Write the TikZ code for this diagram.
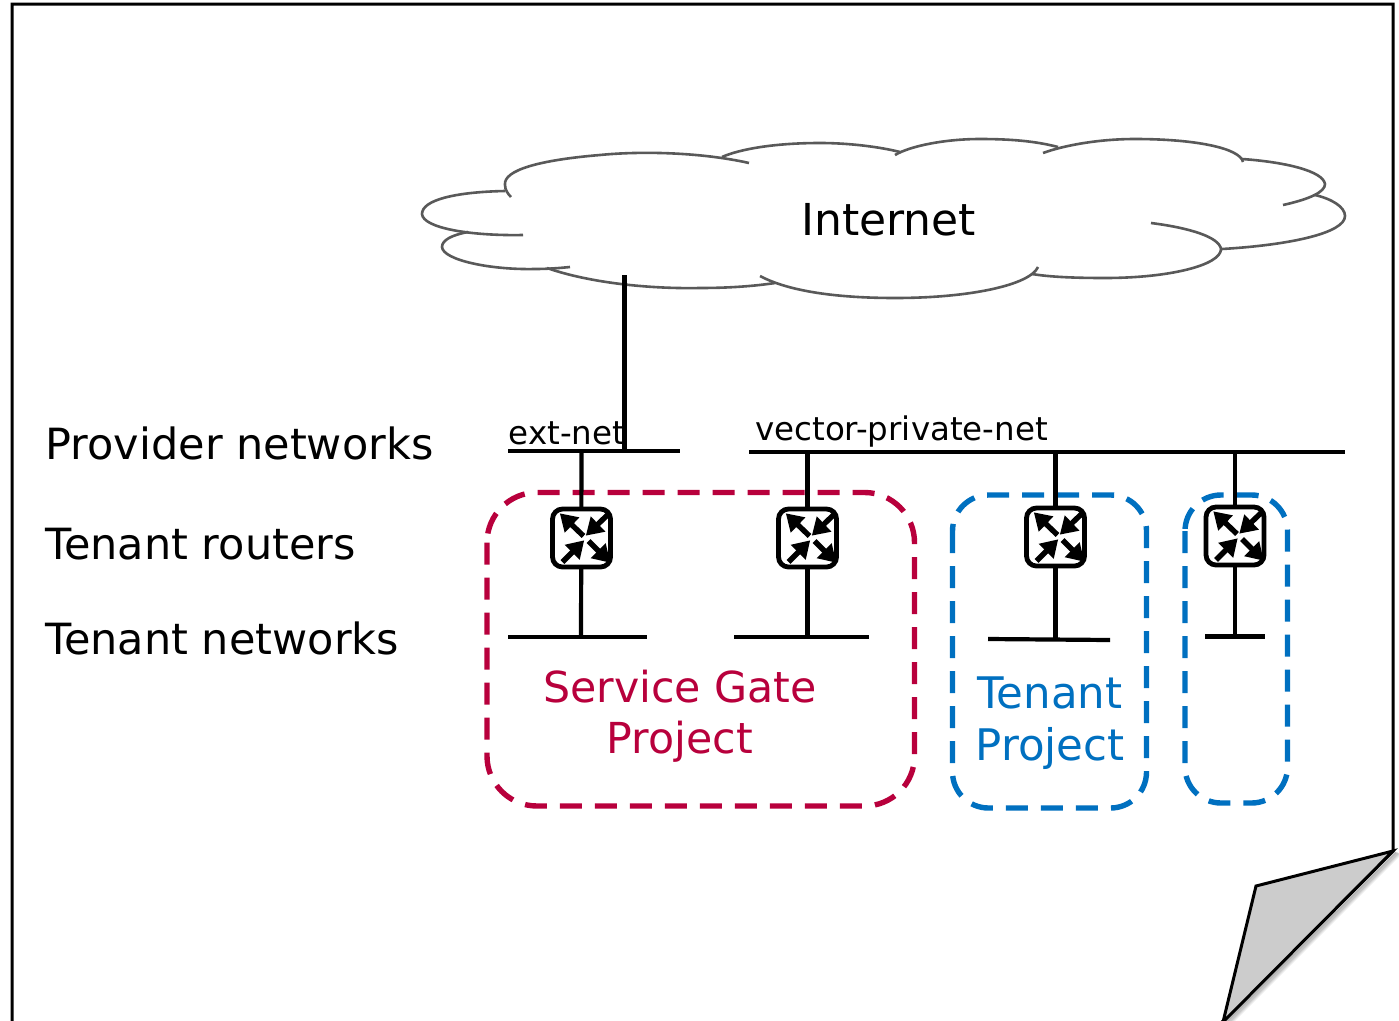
\documentclass[tikz,border=0pt]{standalone}
\usepackage{fontspec}
\setmainfont{DejaVu Sans}
\usetikzlibrary{arrows.meta}
\definecolor{cloudgray}{HTML}{595959}
\definecolor{svcred}{HTML}{B8003C}
\definecolor{tenblue}{HTML}{0070C0}
\tikzset{
  x=1pt,y=-1pt,
  pageedge/.style={draw=black,line width=3pt,line join=miter},
  lobe/.style={draw=cloudgray,line width=2.6pt,line cap=butt},
  netline/.style={draw=black,line width=4.2pt},
  routerbox/.style={draw=black,fill=white,line width=4.8pt,rounded corners=10pt,minimum size=58pt,inner sep=0pt},
  flow/.style={line width=5.4pt,-{Triangle[length=17pt,width=20pt]},shorten >=-1pt},
  svcbox/.style={draw=svcred,line width=5.4pt,dash pattern=on 22pt off 13pt},
  tenbox/.style={draw=tenblue,line width=5.4pt,dash pattern=on 22pt off 13pt},
  biglabel/.style={font=\fontsize{43}{50}\selectfont,inner sep=0pt,anchor=base west},
  smalllabel/.style={font=\fontsize{32.5}{38}\selectfont,inner sep=0pt,anchor=base west},
  svctext/.style={font=\fontsize{42.7}{51.5}\selectfont,text=svcred,align=center,inner sep=0pt},
  tentext/.style={font=\fontsize{43.5}{52}\selectfont,text=tenblue,align=center,inner sep=0pt},
}
\newcommand{\routerat}[3]{%
  \node[routerbox] (#1) at (#2,#3) {};
  \draw[flow] (#2+2,#3-2) -- (#2-21,#3-24);
  \draw[flow] (#2+26,#3-23) -- (#2+5,#3-3);
  \draw[flow] (#2-19,#3+24) -- (#2+2,#3+3);
  \draw[flow] (#2+7,#3+3) -- (#2+28,#3+24);
}
\begin{document}
\begin{tikzpicture}
\useasboundingbox (0,0) rectangle (1399,1020);
% page with shadow of the fold
\fill[white] (0,0) rectangle (1399,1020);
\foreach \o/\a in {7/0.08,5.5/0.1,4/0.13,2.5/0.18}{
  \draw[black,opacity=\a,line width=3pt] (1393+\o,851+\o*0.4) -- (1222+\o,1022+\o*0.4);
}
\draw[pageedge,fill=white] (12,1022) -- (12,4) -- (1393,4) -- (1393,851) -- (1222,1022);
\draw[pageedge,fill=black!20] (1393,851) -- (1256,886) -- (1223,1022) -- cycle;
% cloud
\draw[lobe] (749,163) .. controls (700,152) and (640,151) .. (600,155) .. controls (540,160) and (503,170) .. (505,185) .. controls (505,190) and (508,194) .. (511,197);
\draw[lobe] (505,191) .. controls (455,192) and (422,200) .. (422,214) .. controls (423,228) and (470,236) .. (523,235);
\draw[lobe] (468,232) .. controls (452,235) and (442,240) .. (442,247) .. controls (443,260) and (490,270) .. (535,269) .. controls (548,269) and (560,268) .. (570,267);
\draw[lobe] (547,268) .. controls (590,283) and (650,289) .. (700,288) .. controls (730,288) and (755,286) .. (775,283);
\draw[lobe] (760,276) .. controls (790,292) and (840,298) .. (895,298) .. controls (970,298) and (1030,285) .. (1038,267);
\draw[lobe] (1032,274) .. controls (1050,277) and (1075,278) .. (1105,278) .. controls (1170,278) and (1221,265) .. (1221,249) .. controls (1219,237) and (1190,228) .. (1151,223);
\draw[lobe] (1222,249) .. controls (1290,245) and (1345,233) .. (1345,216) .. controls (1345,207) and (1332,199) .. (1315,195);
\draw[lobe] (1283,205) .. controls (1310,199) and (1325,192) .. (1325,184) .. controls (1323,171) and (1285,162) .. (1242,159);
\draw[lobe] (1243,162) .. controls (1240,148) and (1195,139) .. (1135,139) .. controls (1100,139) and (1065,145) .. (1043,153);
\draw[lobe] (1058,147) .. controls (1035,141) and (1010,139) .. (980,139) .. controls (945,139) and (910,146) .. (895,155);
\draw[lobe] (900,152) .. controls (880,147) and (850,143) .. (820,143) .. controls (775,143) and (740,149) .. (722,157);
\node[font=\fontsize{44}{50}\selectfont,inner sep=0pt,anchor=base] (inet) at (888.5,235) {Internet};
\coordinate (cloudfoot) at (624.5,275);
% project boxes
\draw[svcbox,rounded corners=50pt] (487,492.5) rectangle (914.5,806);
\draw[tenbox,rounded corners=36pt] (952.5,495) rectangle (1146.5,808);
\draw[tenbox,rounded corners=36pt] (1185,495) rectangle (1287.5,803);
% buses
\coordinate (extL) at (508,451);
\coordinate (extR) at (680,451);
\coordinate (vecL) at (749,452);
\coordinate (vecR) at (1345,452);
\coordinate (netAL) at (508,637);
\coordinate (netAR) at (647,637);
\coordinate (netBL) at (734,637);
\coordinate (netBR) at (869,637);
\coordinate (netCL) at (988,639);
\coordinate (netCR) at (1110,640);
\coordinate (netDL) at (1205,636.5);
\coordinate (netDR) at (1265,636.5);
\draw[netline] (extL) -- (extR);
\draw[netline] (vecL) -- (vecR);
\draw[netline] (netAL) -- (netAR);
\draw[netline] (netBL) -- (netBR);
\draw[netline] (netCL) -- (netCR);
\draw[netline] (netDL) -- (netDR);
\draw[netline] (cloudfoot) -- (cloudfoot |- extL);
% routers and their links
\coordinate (upA) at (581.5,451);
\coordinate (upB) at (807.5,452);
\coordinate (upC) at (1055.5,452);
\coordinate (upD) at (1235,452);
\coordinate (downA) at (581,637);
\coordinate (downB) at (807.5,637);
\coordinate (downC) at (1055.5,640);
\coordinate (downD) at (1235,636.5);
\draw[netline] (upA) -- (downA);
\draw[netline] (upB) -- (downB);
\draw[netline] (upC) -- (downC);
\draw[netline] (upD) -- (downD);
\routerat{ra}{581.5}{538}
\routerat{rb}{807.5}{538}
\routerat{rc}{1055.5}{537}
\routerat{rd}{1235}{536}
% labels
\node[biglabel] (lprov) at (45.5,459) {Provider networks};
\node[biglabel] (lrout) at (45,559) {Tenant routers};
\node[biglabel] (lnets) at (45,654) {Tenant networks};
\node[smalllabel] (lext) at (508.5,444) {ext-net};
\node[smalllabel] (lvec) at (755,440) {vector-private-net};
\node[svctext] (lsvc) at (680,716) {Service Gate\\Project};
\node[tentext] (lten) at (1050,723.5) {Tenant\\Project};
\end{tikzpicture}
\end{document}
